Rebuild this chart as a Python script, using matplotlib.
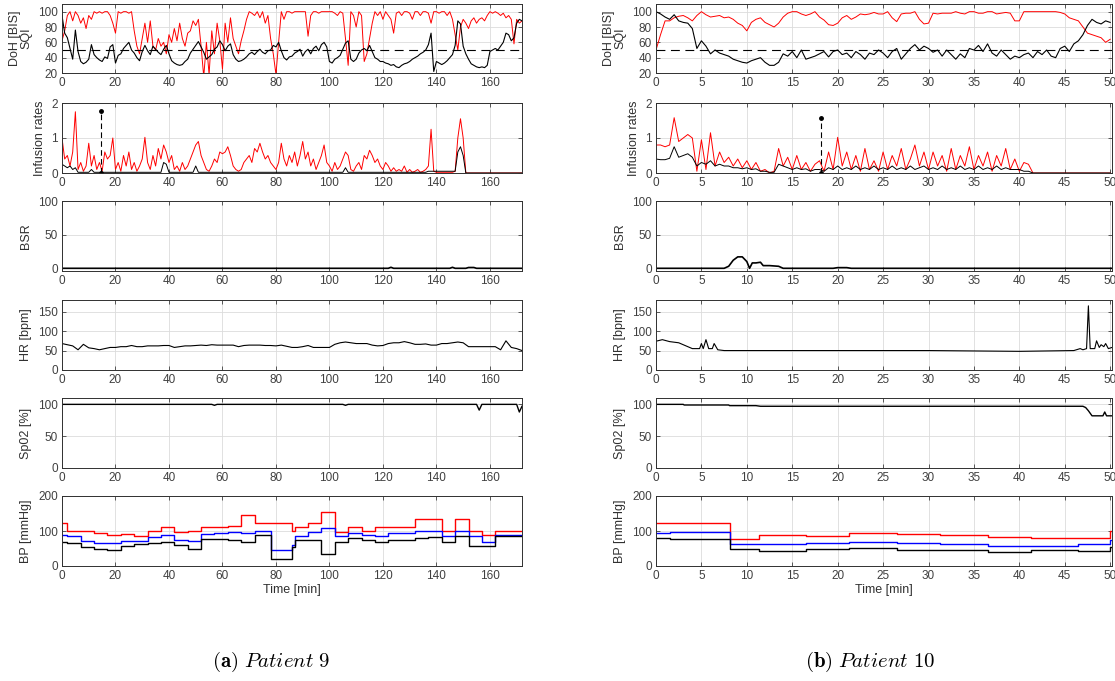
import matplotlib.pyplot as plt
import matplotlib
import numpy as np

matplotlib.rc('xtick', labelsize=8.5)
matplotlib.rc('ytick', labelsize=8.5)
plt.rcParams['font.family'] = ['Liberation Sans', 'DejaVu Sans']
plt.rcParams['mathtext.fontset'] = 'cm'

# ---------------- Paciente 9 (muestreo de 1 min) ----------------
bis9 = [95, 72, 66, 52, 38, 76, 48, 35, 32, 34,
        38, 57, 44, 40, 37, 35, 41, 39, 54, 57,
        33, 43, 45, 52, 56, 60, 50, 46, 40, 36,
        48, 56, 49, 44, 55, 51, 47, 44, 51, 56,
        45, 36, 33, 31, 30, 31, 35, 38, 46, 51,
        56, 61, 54, 47, 38, 41, 44, 51, 54, 62,
        57, 49, 55, 58, 44, 38, 35, 36, 38, 41,
        45, 47, 44, 48, 51, 47, 45, 49, 50, 56,
        54, 60, 49, 40, 37, 41, 42, 46, 48, 51,
        42, 48, 51, 45, 52, 55, 49, 57, 60, 54,
        35, 33, 38, 40, 43, 51, 59, 62, 38, 35,
        38, 46, 50, 52, 49, 56, 48, 40, 38, 35,
        35, 33, 32, 30, 31, 28, 27, 30, 32, 33,
        35, 38, 40, 42, 45, 47, 50, 57, 72, 22,
        35, 33, 31, 33, 36, 40, 44, 56, 88, 84,
        55, 45, 38, 32, 30, 28, 27, 28, 27, 30,
        48, 50, 52, 50, 55, 60, 72, 70, 62, 66,
        85, 90, 88]
sqi9 = [62, 75, 95, 100, 88, 100, 95, 85, 92, 78,
        95, 90, 100, 98, 100, 98, 100, 100, 95, 85,
        72, 100, 98, 100, 100, 98, 100, 75, 55, 45,
        65, 85, 60, 88, 55, 50, 65, 55, 60, 45,
        70, 60, 78, 62, 85, 65, 55, 72, 75, 88,
        82, 90, 55, 15, 60, 18, 75, 45, 85, 62,
        25, 85, 60, 92, 65, 55, 45, 62, 75, 90,
        100, 98, 95, 100, 92, 100, 85, 95, 65, 45,
        18, 60, 100, 90, 100, 100, 98, 100, 100, 100,
        100, 100, 68, 95, 100, 100, 98, 100, 100, 100,
        100, 100, 98, 95, 100, 98, 65, 30, 100, 95,
        80, 100, 95, 35, 45, 65, 85, 100, 95, 100,
        90, 100, 95, 90, 72, 98, 100, 95, 100, 100,
        98, 90, 100, 100, 95, 100, 100, 98, 85, 100,
        100, 98, 100, 100, 95, 100, 90, 70, 50, 80,
        90, 85, 78, 88, 92, 85, 90, 92, 88, 95,
        100, 98, 100, 98, 95, 98, 92, 95, 90, 58,
        90, 85, 88]
prop9 = [1.0, 0.4, 0.5, 0.2, 0.6, 1.75, 0.1, 0.3, 0.05, 0.2,
         0.85, 0.2, 0.5, 0.1, 0.3, 0.05, 0.6, 0.4, 0.5, 1.0,
         0.1, 0.3, 0.05, 0.5, 0.2, 0.6, 0.1, 0.3, 0.05, 0.2,
         0.4, 1.02, 0.3, 0.1, 0.5, 0.2, 0.7, 0.4, 0.8, 0.6,
         0.3, 0.5, 0.1, 0.2, 0.05, 0.3, 0.1, 0.2, 0.4, 0.6,
         0.8, 0.9, 0.5, 0.3, 0.1, 0.05, 0.2, 0.4, 0.3, 0.6,
         0.55, 0.6, 0.75, 0.5, 0.2, 0.1, 0.05, 0.1, 0.3, 0.4,
         0.5, 0.3, 0.7, 0.6, 0.85, 0.6, 0.4, 0.5, 0.3, 0.2,
         0.1, 0.3, 0.85, 0.4, 0.2, 0.5, 0.3, 0.6, 0.2, 0.5,
         0.9, 0.4, 0.6, 0.2, 0.4, 0.1, 0.3, 0.5, 0.8, 0.3,
         0.2, 0.05, 0.3, 0.1, 0.2, 0.4, 0.6, 0.5, 0.1, 0.05,
         0.2, 0.3, 0.1, 0.5, 0.4, 0.65, 0.5, 0.3, 0.4, 0.2,
         0.1, 0.3, 0.2, 0.05, 0.15, 0.05, 0.1, 0.05, 0.2, 0.02,
         0.1, 0.02, 0.05, 0.1, 0.02, 0.05, 0.1, 0.2, 1.25, 0.05,
         0.02, 0.02, 0.02, 0.02, 0.02, 0.02, 0.02, 0.05, 1.0, 1.55,
         1.0, 0, 0, 0, 0, 0, 0, 0, 0, 0,
         0, 0, 0, 0, 0, 0, 0, 0, 0, 0,
         0, 0, 0]
remi9 = [0.25, 0.2, 0.15, 0.2, 0.1, 0.15, 0.02, 0.02, 0.02, 0.02,
         0.02, 0.1, 0.02, 0.02, 0.02, 0.02, 0.02, 0.02, 0.02, 0.02,
         0.02, 0.02, 0.02, 0.02, 0.02, 0.02, 0.02, 0.02, 0.02, 0.02,
         0.02, 0.02, 0.02, 0.02, 0.02, 0.02, 0.02, 0.02, 0.3, 0.25,
         0.02, 0.02, 0.02, 0.02, 0.02, 0.02, 0.02, 0.02, 0.02, 0.02,
         0.2, 0.02, 0.02, 0.02, 0.02, 0.02, 0.02, 0.02, 0.02, 0.02,
         0.02, 0.02, 0.02, 0.02, 0.02, 0.02, 0.02, 0.02, 0.02, 0.02,
         0.02, 0.02, 0.02, 0.02, 0.02, 0.02, 0.02, 0.02, 0.02, 0.02,
         0.02, 0.02, 0.02, 0.02, 0.02, 0.02, 0.02, 0.02, 0.02, 0.02,
         0.02, 0.02, 0.02, 0.02, 0.02, 0.02, 0.02, 0.02, 0.02, 0.02,
         0.02, 0.02, 0.02, 0.02, 0.02, 0.02, 0.15, 0.02, 0.02, 0.02,
         0.02, 0.02, 0.02, 0.02, 0.02, 0.02, 0.02, 0.02, 0.02, 0.02,
         0.02, 0.02, 0.02, 0.02, 0.02, 0.02, 0.02, 0.02, 0.02, 0.02,
         0.02, 0.02, 0.02, 0.02, 0.02, 0.02, 0.02, 0.05, 0.05, 0.05,
         0.05, 0.05, 0.05, 0.05, 0.05, 0.05, 0.05, 0.05, 0.6, 0.75,
         0.5, 0, 0, 0, 0, 0, 0, 0, 0, 0,
         0, 0, 0, 0, 0, 0, 0, 0, 0, 0,
         0, 0, 0]
bolo9 = (14.5, 1.78)

bsr9_t = [0, 122, 123, 124, 145, 146, 147, 151, 152, 154, 155, 172]
bsr9 = [0, 0, 1.5, 0, 0, 1.5, 0, 0, 1.2, 1.2, 0, 0]

hr9 = [68, 65, 62, 52, 66, 57, 55, 52, 55, 58,
       58, 60, 60, 63, 60, 60, 62, 62, 62, 63,
       63, 58, 60, 62, 62, 63, 64, 63, 65, 64,
       64, 64, 64, 60, 63, 64, 64, 64, 63, 63,
       62, 64, 61, 58, 58, 60, 63, 58, 58, 58,
       58, 66, 70, 72, 70, 68, 68, 68, 64, 62,
       63, 68, 70, 70, 73, 70, 66, 66, 67, 64,
       64, 68, 68, 70, 72, 70, 60, 60, 60, 60,
       60, 60, 52, 75, 58, 55, 50]

spo9_t = [0, 56, 57, 58, 105, 106, 107, 155, 156, 157, 170, 171, 172]
spo9 = [100, 100, 98.5, 100, 100, 98.5, 100, 100, 91, 100, 100, 88, 97]

bp9_t = [0, 2, 7, 12, 17, 22, 27, 32, 37, 42, 47, 52, 57, 62, 67, 72, 78,
         86, 87, 92, 97, 102, 107, 112, 117, 122, 132, 137, 142, 147, 152,
         157, 162, 172]
sys9 = [122, 100, 100, 95, 90, 92, 85, 100, 112, 98, 100, 112, 112, 113,
        145, 122, 122, 100, 112, 122, 155, 98, 112, 100, 112, 112, 133, 133,
        100, 133, 100, 90, 100, 100]
map9 = [90, 85, 72, 65, 67, 72, 72, 83, 90, 75, 72, 92, 95, 97, 95, 100,
        45, 60, 87, 97, 110, 85, 95, 90, 85, 95, 100, 100, 85, 100, 85, 70,
        90, 90]
dia9 = [70, 65, 55, 50, 47, 58, 62, 65, 68, 60, 48, 78, 78, 75, 70, 88,
        20, 55, 75, 75, 33, 70, 80, 75, 68, 75, 80, 82, 70, 85, 57, 57,
        85, 85]

# ---------------- Paciente 10 (muestreo de 0.5 min) ----------------
bis10 = [100, 97, 93, 90, 96, 88, 86, 85, 78, 52,
         62, 55, 45, 50, 46, 44, 42, 38, 36, 34,
         33, 36, 38, 40, 34, 30, 30, 34, 45, 42,
         48, 40, 50, 38, 40, 42, 45, 48, 41, 48,
         50, 44, 46, 40, 48, 44, 38, 46, 44, 50,
         46, 40, 48, 52, 38, 45, 52, 57, 50, 55,
         52, 47, 50, 42, 50, 44, 38, 45, 40, 52,
         50, 56, 48, 58, 46, 42, 50, 44, 38, 42,
         40, 44, 46, 40, 48, 44, 50, 42, 40, 52,
         55, 48, 58, 62, 70, 82, 90, 86, 84, 88,
         86]
sqi10 = [50, 70, 88, 88, 92, 94, 95, 92, 88, 95,
         100, 96, 93, 94, 95, 92, 93, 90, 85, 82,
         75, 86, 90, 92, 86, 83, 80, 85, 93, 98,
         100, 100, 97, 95, 97, 100, 93, 89, 83, 82,
         85, 92, 95, 90, 93, 97, 96, 97, 99, 97,
         97, 100, 92, 87, 97, 98, 98, 100, 90, 84,
         85, 98, 97, 98, 98, 98, 100, 98, 97, 100,
         100, 98, 98, 100, 100, 97, 98, 99, 98, 88,
         88, 100, 100, 100, 100, 100, 100, 100, 100, 99,
         97, 92, 90, 88, 80, 72, 70, 68, 66, 60,
         64]
prop10 = [0.8, 0.8, 0.75, 0.8, 1.58, 0.9, 1.0, 1.1, 1.0, 0.05,
          0.95, 0.1, 1.15, 0.2, 0.6, 0.3, 0.45, 0.2, 0.4, 0.15,
          0.35, 0.1, 0.3, 0.05, 0.1, 0.0, 0.05, 0.7, 0.2, 0.45,
          0.1, 0.5, 0.1, 0.3, 0.05, 0.25, 0.35, 0.05, 0.6, 0.1,
          1.02, 0.2, 0.6, 0.1, 0.5, 0.05, 0.7, 0.1, 0.35, 0.05,
          0.6, 0.1, 0.5, 0.2, 0.7, 0.1, 0.4, 0.8, 0.2, 0.6,
          0.1, 0.6, 0.2, 0.5, 0.05, 0.7, 0.1, 0.5, 0.2, 0.75,
          0.1, 0.5, 0.2, 0.6, 0.05, 0.5, 0.2, 0.7, 0.1, 0.4,
          0.05, 0.3, 0.25, 0, 0, 0, 0, 0, 0, 0,
          0, 0, 0, 0, 0, 0, 0, 0, 0, 0,
          0]
remi10 = [0.4, 0.38, 0.38, 0.42, 0.75, 0.45, 0.5, 0.55, 0.45, 0.2,
          0.3, 0.25, 0.35, 0.2, 0.25, 0.2, 0.2, 0.15, 0.15, 0.12,
          0.15, 0.1, 0.12, 0.05, 0.05, 0.02, 0.02, 0.25, 0.2, 0.15,
          0.1, 0.15, 0.1, 0.12, 0.05, 0.1, 0.1, 0.05, 0.15, 0.1,
          0.2, 0.1, 0.15, 0.1, 0.2, 0.1, 0.15, 0.1, 0.2, 0.1,
          0.15, 0.1, 0.2, 0.1, 0.15, 0.1, 0.2, 0.1, 0.15, 0.2,
          0.1, 0.15, 0.1, 0.2, 0.1, 0.15, 0.1, 0.2, 0.1, 0.15,
          0.1, 0.2, 0.1, 0.15, 0.1, 0.2, 0.1, 0.15, 0.1, 0.1,
          0.1, 0.05, 0.05, 0, 0, 0, 0, 0, 0, 0,
          0, 0, 0, 0, 0, 0, 0, 0, 0, 0,
          0]
bolo10 = (18.2, 1.58)

bsr10_t = [0, 7.5, 8, 8.5, 9, 9.5, 10, 10.3, 10.6, 11, 11.5, 11.8, 12.5,
           13.5, 14, 19.5, 20, 21, 21.5, 50.2]
bsr10 = [0, 0, 3, 12, 17, 17, 10, 0, 8, 8, 9, 4, 4, 3, 0, 0, 1, 1, 0, 0]

hr10_t = [0, 0.7, 1.5, 2.5, 3.5, 4, 4.8, 5, 5.2, 5.5, 5.8, 6.2, 6.4, 6.8,
          7.5, 10, 20, 30, 40, 46, 46.7, 47, 47.4, 47.6, 47.8, 48.3, 48.5,
          48.8, 49, 49.3, 49.5, 49.8, 50.2]
hr10 = [74, 78, 73, 70, 60, 55, 55, 68, 55, 78, 55, 55, 68, 52, 50, 50, 50,
        50, 48, 50, 55, 52, 55, 165, 55, 55, 75, 58, 65, 60, 68, 55, 58]

spo10_t = [0, 3, 3.1, 8, 8.1, 11, 11.5, 47, 47.3, 47.6, 48, 49.2, 49.4,
           49.6, 50.2]
spo10 = [100, 100, 99, 99, 98, 98, 97, 97, 95, 90, 82, 82, 88, 82, 82]

bp10_t = [0, 1.5, 8.2, 11.3, 16.5, 21.3, 26.5, 31.3, 36.5, 41.3, 46.5, 50.0, 50.2]
sys10 = [122, 122, 77, 89, 86, 93, 91, 88, 84, 81, 81, 100, 100]
map10 = [93, 98, 63, 62, 66, 68, 66, 63, 56, 58, 62, 75, 75]
dia10 = [79, 76, 50, 43, 49, 51, 47, 47, 40, 45, 43, 55, 55]

# ---------------- figura ----------------
W, H = 1115, 681
fig = plt.figure(figsize=(W / 100, H / 100), dpi=100)

filas = [(4, 73), (103, 173), (201, 271), (300, 370), (398, 468), (496, 566)]
columnas = [(62, 522), (656, 1112)]


def crear_ejes(col, fila):
    x0, x1 = columnas[col]
    y0, y1 = filas[fila]
    ax = fig.add_axes([x0 / W, 1 - y1 / H, (x1 - x0) / W, (y1 - y0) / H])
    ax.grid(True, color='#dcdcdc', lw=0.6)
    ax.set_axisbelow(True)
    ax.tick_params(direction='in', top=True, right=True, length=3,
                   colors='#404040', width=0.6, pad=3)
    for s in ax.spines.values():
        s.set_color('#303030')
        s.set_linewidth(0.7)
    return ax


def paciente(col, xmax, xt, d):
    ax = crear_ejes(col, 0)
    t = np.arange(len(d['bis'])) * d['dt']
    ax.plot(t, d['sqi'], color='red', lw=0.7)
    ax.plot(t, d['bis'], color='black', lw=0.8)
    ax.axhline(50, color='black', lw=0.8, ls=(0, (8, 5)))
    ax.set_ylim(20, 110)
    ax.set_yticks([20, 40, 60, 80, 100])
    ax.set_ylabel('DoH [BIS]\nSQI', fontsize=9, color='#303030', linespacing=0.9)

    ax = crear_ejes(col, 1)
    t = np.arange(len(d['prop'])) * d['dt_inf']
    ax.plot(t, d['prop'], color='red', lw=0.7)
    ax.plot(t, d['remi'], color='black', lw=0.7)
    bx, bh = d['bolo']
    ax.plot([bx, bx], [0, bh], color='black', lw=0.8, ls=(0, (5, 3)),
            marker='.', ms=5)
    ax.plot([t[-1], xmax], [0, 0], color='red', lw=0.7)
    ax.set_ylim(0, 2)
    ax.set_yticks([0, 1, 2])
    ax.set_ylabel('Infusion rates', fontsize=9, color='#303030')

    ax = crear_ejes(col, 2)
    ax.plot(d['bsr_t'], d['bsr'], color='black', lw=1.2)
    ax.set_ylim(-4, 100)
    ax.set_yticks([0, 50, 100])
    ax.set_ylabel('BSR', fontsize=9, color='#303030')

    ax = crear_ejes(col, 3)
    ax.plot(d['hr_t'], d['hr'], color='black', lw=0.8)
    ax.set_ylim(0, 180)
    ax.set_yticks([0, 50, 100, 150])
    ax.set_ylabel('HR [bpm]', fontsize=9, color='#303030')

    ax = crear_ejes(col, 4)
    ax.plot(d['spo_t'], d['spo'], color='black', lw=1.0)
    ax.set_ylim(0, 110)
    ax.set_yticks([0, 50, 100])
    ax.set_ylabel('Sp02 [%]', fontsize=9, color='#303030')

    ax = crear_ejes(col, 5)
    ax.step(d['bp_t'], d['sys'], where='post', color='red', lw=1.0)
    ax.step(d['bp_t'], d['map'], where='post', color='blue', lw=1.0)
    ax.step(d['bp_t'], d['dia'], where='post', color='black', lw=1.0)
    ax.set_ylim(0, 200)
    ax.set_yticks([0, 100, 200])
    ax.set_ylabel('BP [mmHg]', fontsize=9, color='#303030')
    ax.set_xlabel('Time [min]', fontsize=9, color='#303030', labelpad=1)

    for a in fig.axes[-6:]:
        a.set_xlim(0, xmax)
        a.set_xticks(xt)


paciente(0, 172, np.arange(0, 161, 20),
         dict(bis=bis9, sqi=sqi9, dt=1, prop=prop9, remi=remi9, dt_inf=1,
              bolo=bolo9, bsr_t=bsr9_t, bsr=bsr9,
              hr_t=np.arange(len(hr9)) * 2, hr=hr9,
              spo_t=spo9_t, spo=spo9,
              bp_t=bp9_t, sys=sys9, map=map9, dia=dia9))
paciente(1, 50.2, np.arange(0, 51, 5),
         dict(bis=bis10, sqi=sqi10, dt=0.5, prop=prop10, remi=remi10, dt_inf=0.5,
              bolo=bolo10, bsr_t=bsr10_t, bsr=bsr10,
              hr_t=hr10_t, hr=hr10,
              spo_t=spo10_t, spo=spo10,
              bp_t=bp10_t, sys=sys10, map=map10, dia=dia10))

fig.text(271 / W, 1 - 662 / H, r'$\mathbf{(a)}$ $\mathit{Patient\ 9}$',
         ha='center', va='center', fontsize=15)
fig.text(870 / W, 1 - 662 / H, r'$\mathbf{(b)}$ $\mathit{Patient\ 10}$',
         ha='center', va='center', fontsize=15)

plt.savefig('out.png', dpi=100)
